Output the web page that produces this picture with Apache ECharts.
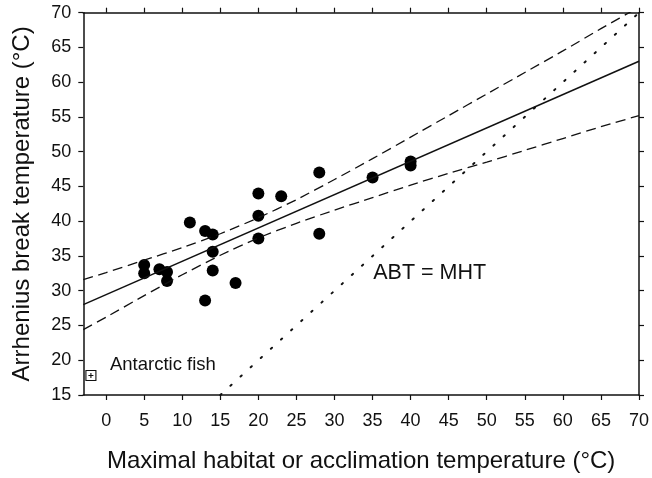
<!DOCTYPE html>
<html>
<head>
<meta charset="utf-8">
<script src="https://cdn.jsdelivr.net/npm/echarts@6/dist/echarts.min.js"></script>
<style>
html,body{margin:0;padding:0;background:#fff;}
#chart{width:652px;height:478px;}
</style>
</head>
<body>
<div id="chart"></div>
<script>
// Measured fish data (MHT, ABT)
var pointX = [5, 5, 7, 8, 8, 11, 13, 13, 14, 14, 14, 17, 20, 20, 20, 23, 28, 28, 35, 40, 40];
var pointY = [33.7, 32.5, 33.1, 32.7, 31.4, 39.8, 38.6, 28.6, 38.1, 35.6, 32.9, 31.1, 44.0, 40.8, 37.5, 43.6, 47.0, 38.2, 46.3, 48.6, 48.0];

// Regression line end points
var fitX = [-3, 70];
var fitY = [28.0, 63.0];

// Confidence band
var bandX = [-3, 0, 5, 10, 15, 20, 25, 30, 35, 40, 45, 50, 55, 60, 65, 70];
var bandUpper = [31.6, 32.6, 34.4, 36.2, 38.2, 40.5, 43.1, 46.0, 49.0, 52.1, 55.2, 58.3, 61.4, 64.5, 67.7, 70.8];
var bandLower = [24.4, 26.2, 29.3, 32.3, 35.1, 37.6, 39.7, 41.6, 43.4, 45.2, 46.9, 48.5, 50.2, 51.9, 53.6, 55.2];

// Line of identity ABT = MHT
var identX = [15, 70];
var identY = [15, 70];

// Antarctic fish
var antarcticX = [-2];
var antarcticY = [17.8];

// Tick labels
var xTicks = [0, 5, 10, 15, 20, 25, 30, 35, 40, 45, 50, 55, 60, 65, 70];
var yTicks = [15, 20, 25, 30, 35, 40, 45, 50, 55, 60, 65, 70];

// Annotations (text, x, y)
var noteText = ['ABT = MHT', 'Antarctic fish'];
var noteX = [42.5, 0.5];
var noteY = [32.5, 19.3];
var noteSize = [21.5, 18.5];
var noteAlign = ['center', 'left'];

function pairs(xa, ya) { return xa.map(function (x, i) { return [x, ya[i]]; }); }

var FONT = 'Liberation Sans, Arial, sans-serif';
var axisLine = { show: true, onZero: false, lineStyle: { color: '#111', width: 1.5 } };
var axisTick = { show: true, inside: false, length: 5, lineStyle: { color: '#111', width: 1.2 } };

var chart = echarts.init(document.getElementById('chart'), null, { renderer: 'canvas' });
chart.setOption({
  animation: false,
  backgroundColor: '#fff',
  grid: { left: 83.3, right: 11.3, top: 12.7, bottom: 78.7, containLabel: false },
  xAxis: [
    {
      type: 'value', position: 'bottom', min: -3, max: 70,
      axisLine: axisLine,
      axisTick: Object.assign({}, axisTick, { customValues: xTicks }),
      axisLabel: { customValues: xTicks, fontSize: 18, color: '#111', fontFamily: FONT, margin: 17 },
      splitLine: { show: false },
      name: 'Maximal habitat or acclimation temperature (°C)',
      nameLocation: 'middle', nameGap: 54,
      nameTextStyle: { fontSize: 24, color: '#111', fontFamily: FONT }
    },
    {
      type: 'value', position: 'top', min: -3, max: 70,
      axisLine: axisLine,
      axisTick: Object.assign({}, axisTick, { customValues: xTicks }),
      axisLabel: { show: false },
      splitLine: { show: false }
    }
  ],
  yAxis: [
    {
      type: 'value', position: 'left', min: 15, max: 70, interval: 5,
      axisLine: axisLine,
      axisTick: axisTick,
      axisLabel: { fontSize: 18, color: '#111', fontFamily: FONT, margin: 12 },
      splitLine: { show: false },
      name: 'Arrhenius break temperature (°C)',
      nameLocation: 'middle', nameGap: 49,
      nameTextStyle: { fontSize: 24, color: '#111', fontFamily: FONT }
    },
    {
      type: 'value', position: 'right', min: 15, max: 70, interval: 5,
      axisLine: axisLine,
      axisTick: axisTick,
      axisLabel: { show: false },
      splitLine: { show: false }
    }
  ],
  series: [
    {
      type: 'line', data: pairs(identX, identY), symbol: 'none', clip: true,
      lineStyle: { color: '#111', width: 2, type: [1.5, 12.2], cap: 'round' }
    },
    {
      type: 'line', data: pairs(bandX, bandUpper), symbol: 'none', clip: true, smooth: 0.2,
      lineStyle: { color: '#111', width: 1.3, type: [10, 5.5] }
    },
    {
      type: 'line', data: pairs(bandX, bandLower), symbol: 'none', clip: true, smooth: 0.2,
      lineStyle: { color: '#111', width: 1.3, type: [10, 5.5] }
    },
    {
      type: 'line', data: pairs(fitX, fitY), symbol: 'none', clip: true,
      lineStyle: { color: '#111', width: 1.6 }
    },
    {
      type: 'scatter', data: pairs(pointX, pointY), symbol: 'circle', symbolSize: 12,
      itemStyle: { color: '#000', opacity: 1 }
    },
    {
      type: 'scatter', data: pairs(antarcticX, antarcticY),
      symbol: 'path://M0,0L10,0L10,10L0,10Z M5,2.5L5,7.5 M2.5,5L7.5,5',
      symbolSize: 10,
      itemStyle: { color: 'rgba(0,0,0,0)', borderColor: '#111', borderWidth: 1.1, opacity: 1 }
    },
    {
      type: 'scatter', symbolSize: 0, silent: true,
      itemStyle: { opacity: 1 },
      data: noteText.map(function (t, i) {
        return {
          value: [noteX[i], noteY[i]], name: t,
          label: { fontSize: noteSize[i], align: noteAlign[i], verticalAlign: 'middle' }
        };
      }),
      label: {
        show: true, formatter: '{b}', color: '#111', fontFamily: FONT,
        position: 'inside', opacity: 1
      }
    }
  ]
});
</script>
</body>
</html>
